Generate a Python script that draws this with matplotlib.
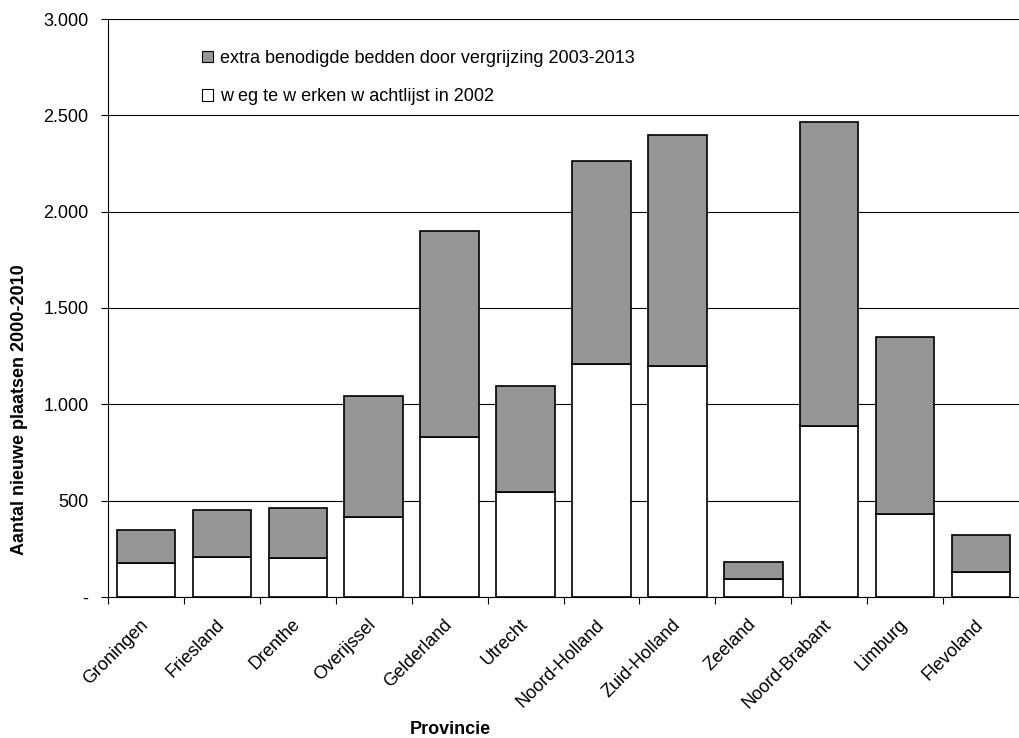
import matplotlib
matplotlib.use("Agg")
import matplotlib.pyplot as plt
from matplotlib.patches import Patch
from matplotlib.ticker import FuncFormatter
import numpy as np

plt.rcParams["font.family"] = ["Liberation Sans", "DejaVu Sans"]

provinces = ["Groningen", "Friesland", "Drenthe", "Overijssel", "Gelderland", "Utrecht",
             "Noord-Holland", "Zuid-Holland", "Zeeland", "Noord-Brabant", "Limburg", "Flevoland"]
# wachtlijst 2002 (white, bottom) and totals (top of grey part)
wachtlijst = [175, 209, 201, 415, 830, 545, 1208, 1199, 95, 887, 431, 131]
totaal = [348, 452, 460, 1045, 1900, 1097, 2261, 2400, 182, 2467, 1347, 320]
vergrijzing = [t - w for t, w in zip(totaal, wachtlijst)]

label_grey = "extra benodigde bedden door vergrijzing 2003-2013"
label_white = "w eg te w erken w achtlijst in 2002"

fig = plt.figure(figsize=(10.19, 7.38), dpi=100)
ax = fig.add_axes([108 / 1019, 141 / 738, 911 / 1019, 578 / 738])

x = np.arange(len(provinces))
ax.bar(x, wachtlijst, width=0.77, color="white", edgecolor="black", linewidth=1.2, zorder=3)
ax.bar(x, vergrijzing, width=0.77, bottom=wachtlijst, color="#969696",
       edgecolor="black", linewidth=1.2, zorder=3)

ax.set_xlim(-0.5, len(provinces) - 0.5)
ax.set_ylim(0, 3000)
ax.set_yticks(np.arange(0, 3001, 500))
ax.yaxis.set_major_formatter(FuncFormatter(
    lambda v, p: "-" if v == 0 else f"{v:,.0f}".replace(",", ".")))
ax.yaxis.grid(True, color="black", linewidth=0.8, zorder=0)
ax.set_axisbelow(True)

ax.set_xticks(x)
ax.set_xticklabels(provinces, rotation=45, ha="right", va="center", rotation_mode="anchor")
ax.set_xticks(np.arange(-0.5, len(provinces), 1), minor=True)
ax.tick_params(axis="x", which="major", length=0, pad=18, labelsize=13)
ax.tick_params(axis="x", which="minor", length=5, direction="out", width=0.8)
ax.tick_params(axis="y", length=5, direction="out", width=0.8, pad=9, labelsize=13)

for s in ["top", "right"]:
    ax.spines[s].set_visible(False)
ax.spines["left"].set_linewidth(0.8)
ax.spines["bottom"].set_linewidth(0.8)

ax.set_xlabel("Provincie", fontsize=13, fontweight="bold")
ax.xaxis.set_label_coords(0.376, -0.215)
ax.set_ylabel("Aantal nieuwe plaatsen 2000-2010", fontsize=13, fontweight="bold")
ax.yaxis.set_label_coords(-0.088, 0.324)

handles = [Patch(facecolor="#969696", edgecolor="black", linewidth=0.8, label=label_grey),
           Patch(facecolor="white", edgecolor="black", linewidth=0.8, label=label_white)]
ax.legend(handles=handles, loc="upper left", bbox_to_anchor=(0.085, 0.975), frameon=False,
          fontsize=13, handlelength=0.6, handleheight=0.6, handletextpad=0.4, labelspacing=1.2)

fig.savefig("out.png", dpi=100)
